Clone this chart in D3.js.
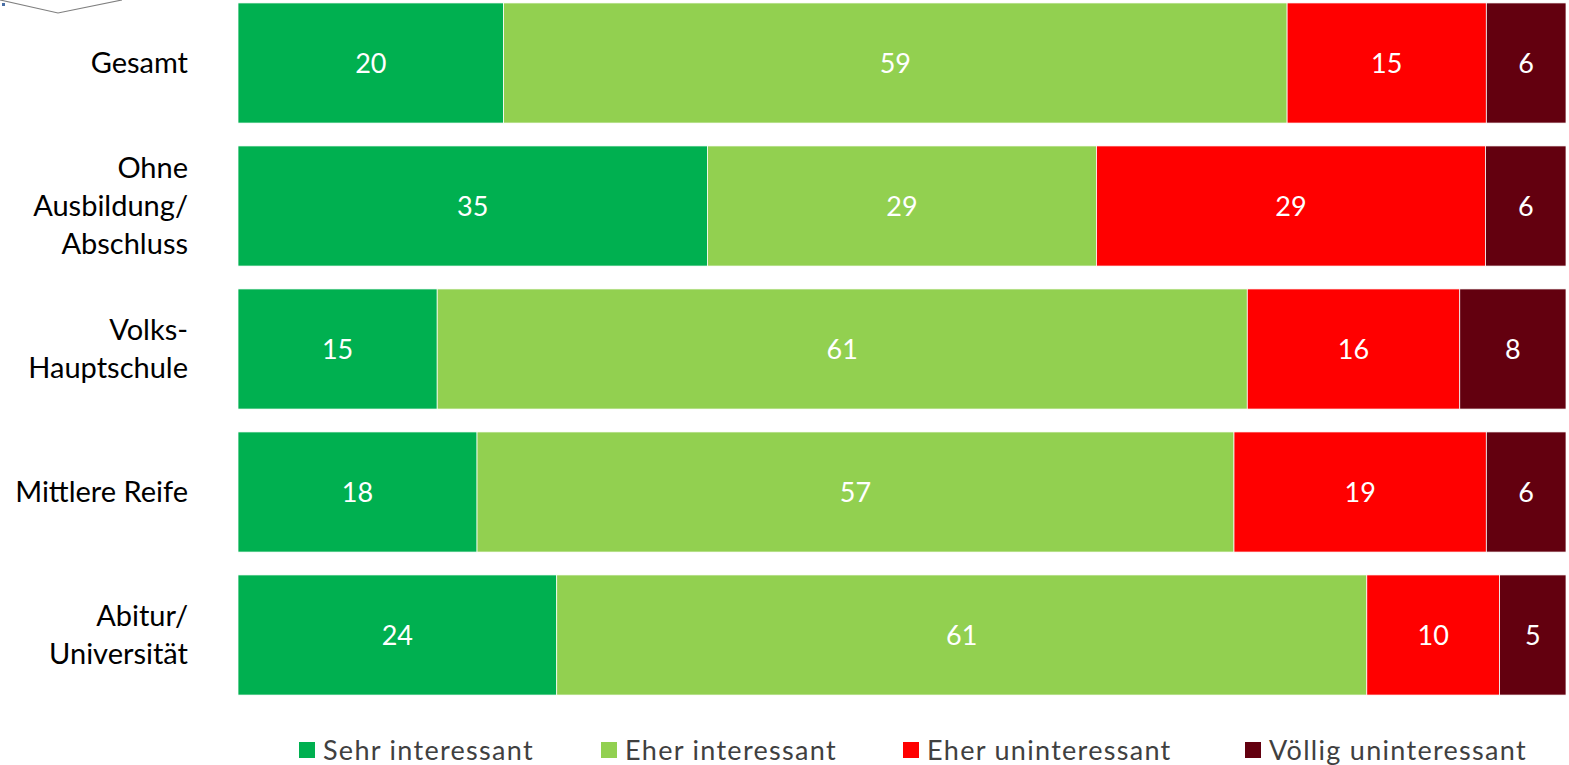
<!DOCTYPE html>
<html>
<head>
<meta charset="utf-8">
<script src="https://cdn.jsdelivr.net/npm/d3@7"></script>
<style>
  html, body { margin: 0; padding: 0; background: #fff; }
  svg { display: block; }
</style>
</head>
<body>
<svg id="chart" width="1569" height="765"></svg>
<script>
// Education groups (rows) and answer categories (stacked segments)
const groups = [
  ["Gesamt"],
  ["Ohne", "Ausbildung/", "Abschluss"],
  ["Volks-", "Hauptschule"],
  ["Mittlere Reife"],
  ["Abitur/", "Universität"]
];
const seriesNames = ["Sehr interessant", "Eher interessant", "Eher uninteressant", "Völlig uninteressant"];
const seriesColors = ["#00B050", "#92D050", "#FF0000", "#63000F"];

const sehrInteressant     = [20, 35, 15, 18, 24];
const eherInteressant     = [59, 29, 61, 57, 61];
const eherUninteressant   = [15, 29, 16, 19, 10];
const voelligUninteressant = [6, 6, 8, 6, 5];

const seriesValues = [sehrInteressant, eherInteressant, eherUninteressant, voelligUninteressant];

const rows = groups.map((g, i) => {
  const r = { key: g.join(" ") , lines: g };
  seriesNames.forEach((s, j) => { r[s] = seriesValues[j][i]; });
  return r;
});

const svg = d3.select("#chart");
const fontFamily = "Lato, 'Open Sans', sans-serif";

const x = d3.scaleLinear().domain([0, 1]).range([238, 1566]);
const y = d3.scaleBand()
  .domain(rows.map(r => r.key))
  .range([-8.5, 706.5])
  .paddingInner(0.16)
  .paddingOuter(0.08);

// Each row is normalised to its own total, so every bar spans the full width
const stacked = d3.stack().keys(seriesNames).offset(d3.stackOffsetExpand)(rows);

const layers = svg.append("g").selectAll("g")
  .data(stacked)
  .join("g")
  .attr("fill", (d, i) => seriesColors[i]);

layers.selectAll("rect")
  .data(d => d.map(p => ({ p, key: d.key })))
  .join("rect")
  .attr("x", d => x(d.p[0]))
  .attr("width", d => x(d.p[1]) - x(d.p[0]))
  .attr("y", d => y(d.p.data.key))
  .attr("height", y.bandwidth())
  .attr("stroke", "#fff")
  .attr("stroke-width", 0.75);

// Value labels centred in each segment
layers.selectAll("text")
  .data(d => d.map(p => ({ p, key: d.key })))
  .join("text")
  .attr("x", d => (x(d.p[0]) + x(d.p[1])) / 2)
  .attr("y", d => y(d.p.data.key) + y.bandwidth() / 2)
  .attr("dy", "0.36em")
  .attr("text-anchor", "middle")
  .attr("fill", "#fff")
  .attr("font-family", fontFamily)
  .attr("font-size", 27)
  .text(d => d.p.data[d.key]);

// Category labels, right-aligned, possibly over several lines
const lineGap = 38;
const cat = svg.append("g").selectAll("text")
  .data(rows)
  .join("text")
  .attr("text-anchor", "end")
  .attr("font-family", fontFamily)
  .attr("font-size", 29)
  .attr("fill", "#000");

cat.each(function(r) {
  const t = d3.select(this);
  const n = r.lines.length;
  const cy = y(r.key) + y.bandwidth() / 2;
  r.lines.forEach((line, k) => {
    t.append("tspan")
      .attr("x", 188)
      .attr("y", cy + (k - (n - 1) / 2) * lineGap)
      .attr("dy", "0.36em")
      .text(line);
  });
});

// Legend
const legendX = [299, 601, 903, 1245];
const legend = svg.append("g").selectAll("g")
  .data(seriesNames)
  .join("g")
  .attr("transform", (d, i) => `translate(${legendX[i]},750)`);

legend.append("rect")
  .attr("x", 0).attr("y", -8)
  .attr("width", 16).attr("height", 16)
  .attr("fill", (d, i) => seriesColors[i]);

legend.append("text")
  .attr("x", 24)
  .attr("dy", "0.36em")
  .attr("font-family", fontFamily)
  .attr("font-size", 27)
  .attr("letter-spacing", 1.3)
  .attr("fill", "#404040")
  .text(d => d);

// Small connector shape in the upper-left corner
svg.append("path")
  .attr("d", "M0,0 L58,13 L122,0")
  .attr("fill", "none")
  .attr("stroke", "#7f7f7f")
  .attr("stroke-width", 1.2);
svg.append("rect")
  .attr("x", 2).attr("y", 3).attr("width", 3).attr("height", 3)
  .attr("fill", "#4a6fa5");
</script>
</body>
</html>
